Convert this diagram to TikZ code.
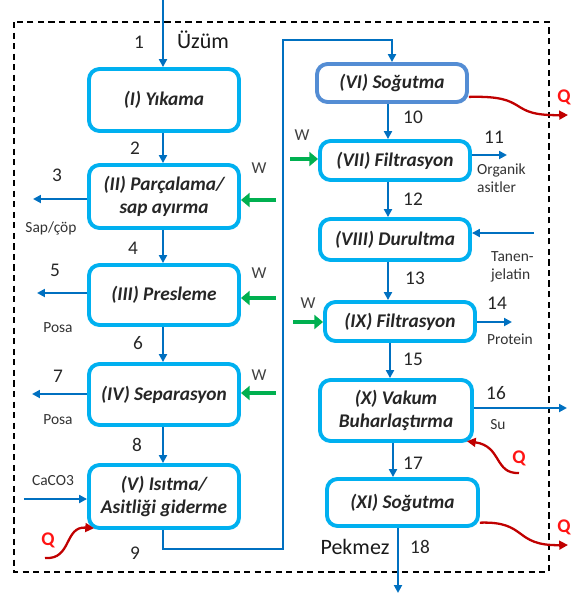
\documentclass[tikz,border=0pt]{standalone}
\usepackage{fontspec}
\setmainfont{Carlito}
\usetikzlibrary{arrows.meta}
\usetikzlibrary{shadows}
\definecolor{bx}{RGB}{0,176,240}
\definecolor{bs}{RGB}{84,141,212}
\definecolor{fl}{RGB}{0,112,192}
\definecolor{gw}{RGB}{0,176,80}
\definecolor{rq}{RGB}{192,0,0}
\definecolor{ql}{RGB}{255,20,20}
\def\pxu{0.02cm}
\tikzset{
	procbox/.style={draw=bx,line width=2.2pt,rounded corners=6pt,fill=white,align=center,
		font=\fontsize{11}{13}\selectfont\bfseries\itshape,text=black!85,
		drop shadow={opacity=0.2,shadow xshift=0.8pt,shadow yshift=-0.8pt}},
	flow/.style={-{Triangle[length=4.5pt,width=4.5pt]},color=fl,line width=1.1pt},
	wflow/.style={-{Triangle[length=5pt,width=8pt]},color=gw,line width=2.4pt},
	qflow/.style={-{Triangle[length=5pt,width=5pt]},color=rq,line width=1.3pt},
	num/.style={font=\fontsize{11}{12}\selectfont,text=black!85},
	big/.style={font=\fontsize{12.5}{14}\selectfont,text=black!90},
	small/.style={font=\fontsize{8.8}{10}\selectfont,text=black!80,align=left},
	qlab/.style={font=\fontsize{11}{12}\selectfont\bfseries,text=ql},
	wlab/.style={font=\fontsize{9.5}{10}\selectfont,text=black!75}
}
\newcommand{\procnode}[7][]{\node[procbox,minimum width=#5*\pxu,minimum height=#6*\pxu,#1] (#4) at (#2,#3) {#7};}

\begin{document}
\begin{tikzpicture}[x=\pxu,y=-\pxu]
\useasboundingbox (0,0) rectangle (573,593);
\draw[dashed,line width=0.8pt,dash pattern=on 3.5pt off 2.5pt] (14,22) rectangle (549,572);

% left column
\procnode{164}{100}{I}{150}{62}{(I) Yıkama}
\procnode{164}{196.5}{II}{150}{63}{(II) Parçalama/\\sap ayırma}
\procnode{164}{295}{III}{150}{60}{(III) Presleme}
\procnode{164}{394.5}{IV}{150}{61}{(IV) Separasyon}
\procnode{164}{496.5}{V}{150}{63}{(V) Isıtma/\\Asitliği giderme}
% right column
\procnode[draw=bs]{392}{83}{VI}{150}{38}{(VI) Soğutma}
\procnode{395}{160.5}{VII}{150}{39}{(VII) Filtrasyon}
\procnode{395}{239.5}{VIII}{150}{41}{(VIII) Durultma}
\procnode{400}{321.5}{IX}{150}{39}{(IX) Filtrasyon}
\procnode{396}{410.5}{X}{152}{61}{(X) Vakum\\Buharlaştırma}
\procnode{402.5}{502.5}{XI}{151}{47}{(XI) Soğutma}

\coordinate (in1) at (163,0);
\coordinate (out3) at (33,199);
\coordinate (out5) at (37,293);
\coordinate (out7) at (32,394);
\coordinate (inCa) at (24,499);
\coordinate (qV) at (45,558);
\coordinate (r1) at (283,549);
\coordinate (r2) at (283,40);
\coordinate (wII) at (276,200);
\coordinate (wIII) at (276,298);
\coordinate (wIV) at (276,393);
\coordinate (wVII) at (290,159);
\coordinate (wIX) at (293,322);
\coordinate (out11) at (507,155);
\coordinate (inTan) at (534,233);
\coordinate (out14) at (512,322);
\coordinate (out16) at (567,408);
\coordinate (out18) at (398,593);
\coordinate (qVI) at (568,115);
\coordinate (qX) at (519,473);
\coordinate (qXI) at (568,545);

\draw[flow] (in1) -- (in1 |- I.north);
\draw[flow] (I.south -| in1) -- (II.north -| in1);
\draw[flow] (II.south -| in1) -- (III.north -| in1);
\draw[flow] (III.south -| in1) -- (IV.north -| in1);
\draw[flow] (IV.south -| in1) -- (V.north -| in1);
\draw[flow] (V.south -| in1) |- (r1) -- (r2) -| ([xshift=0pt]VI.north);
\draw[flow] (VI.south -| 388,0) -- (VII.north -| 388,0);
\draw[flow] (VII.south -| 388,0) -- (VIII.north -| 388,0);
\draw[flow] (VIII.south -| 388,0) -- (IX.north -| 388,0);
\draw[flow] (IX.south -| 390,0) -- (X.north -| 390,0);
\draw[flow] (X.south -| 393,0) -- (XI.north -| 393,0);
\draw[flow] (XI.south -| out18) -- (out18);

\draw[flow] (II.west |- out3) -- (out3);
\draw[flow] (III.west |- out5) -- (out5);
\draw[flow] (IV.west |- out7) -- (out7);
\draw[flow] (inCa) -- (inCa -| V.west);
\draw[flow] (VII.east |- out11) -- (out11);
\draw[flow] (inTan) -- (inTan -| VIII.east);
\draw[flow] (IX.east |- out14) -- (out14);
\draw[flow] (X.east |- out16) -- (out16);

\draw[wflow] (wII) -- (wII -| II.east);
\draw[wflow] (wIII) -- (wIII -| III.east);
\draw[wflow] (wIV) -- (wIV -| IV.east);
\draw[wflow] (wVII) -- (wVII -| VII.west);
\draw[wflow] (wIX) -- (wIX -| IX.west);

\draw[qflow] (qV) .. controls (72,560) and (64,526) .. ([xshift=4pt,yshift=1pt]V.south west);
\draw[qflow] ([yshift=4pt]VI.south east) .. controls (532,95) and (505,116) .. (qVI);
\draw[qflow] (qX) .. controls (494,474) and (502,446) .. ([xshift=-4pt,yshift=1pt]X.south east);
\draw[qflow] ([yshift=3pt]XI.south east) .. controls (528,521) and (513,546) .. (qXI);

% labels
\node[num] (n1) at (139,42) {1};
\node[big] (uzum) at (203,40) {Üzüm};
\node[num] (n2) at (135,148) {2};
\node[num] (n3) at (57,175) {3};
\node[small] (sap) at (51,228) {Sap/çöp};
\node[wlab] (w2) at (259,168) {W};
\node[num] (n4) at (133,248) {4};
\node[num] (n5) at (55,270) {5};
\node[wlab] (w3) at (259,273) {W};
\node[small] (posa1) at (58,328) {Posa};
\node[num] (n6) at (138,343) {6};
\node[num] (n7) at (58,376) {7};
\node[wlab] (w4) at (259,375) {W};
\node[small] (posa2) at (58,420) {Posa};
\node[num] (n8) at (137,445) {8};
\node[small] (caco) at (53,481) {CaCO3};
\node[qlab] (q1) at (48,540) {Q};
\node[num] (n9) at (135,553) {9};

\node[num] (n10) at (413,117) {10};
\node[qlab] (q2) at (564,97) {Q};
\node[wlab] (w7) at (302,135) {W};
\node[num] (n11) at (494,137) {11};
\node[small,anchor=west] (org) at (471,178) {Organik\\asitler};
\node[num] (n12) at (413,199) {12};
\node[small,anchor=west] (tan) at (485,267) {Tanen-\\jelatin};
\node[num] (n13) at (415,278) {13};
\node[wlab] (w9) at (308,303) {W};
\node[num] (n14) at (497,303) {14};
\node[small] (prot) at (510,339) {Protein};
\node[num] (n15) at (413,359) {15};
\node[num] (n16) at (496,393) {16};
\node[small] (su) at (498,425) {Su};
\node[qlab] (q3) at (519,458) {Q};
\node[num] (n17) at (413,463) {17};
\node[big] (pek) at (355,547) {Pekmez};
\node[num] (n18) at (420,547) {18};
\node[qlab] (q4) at (564,527) {Q};
\end{tikzpicture}
\end{document}
